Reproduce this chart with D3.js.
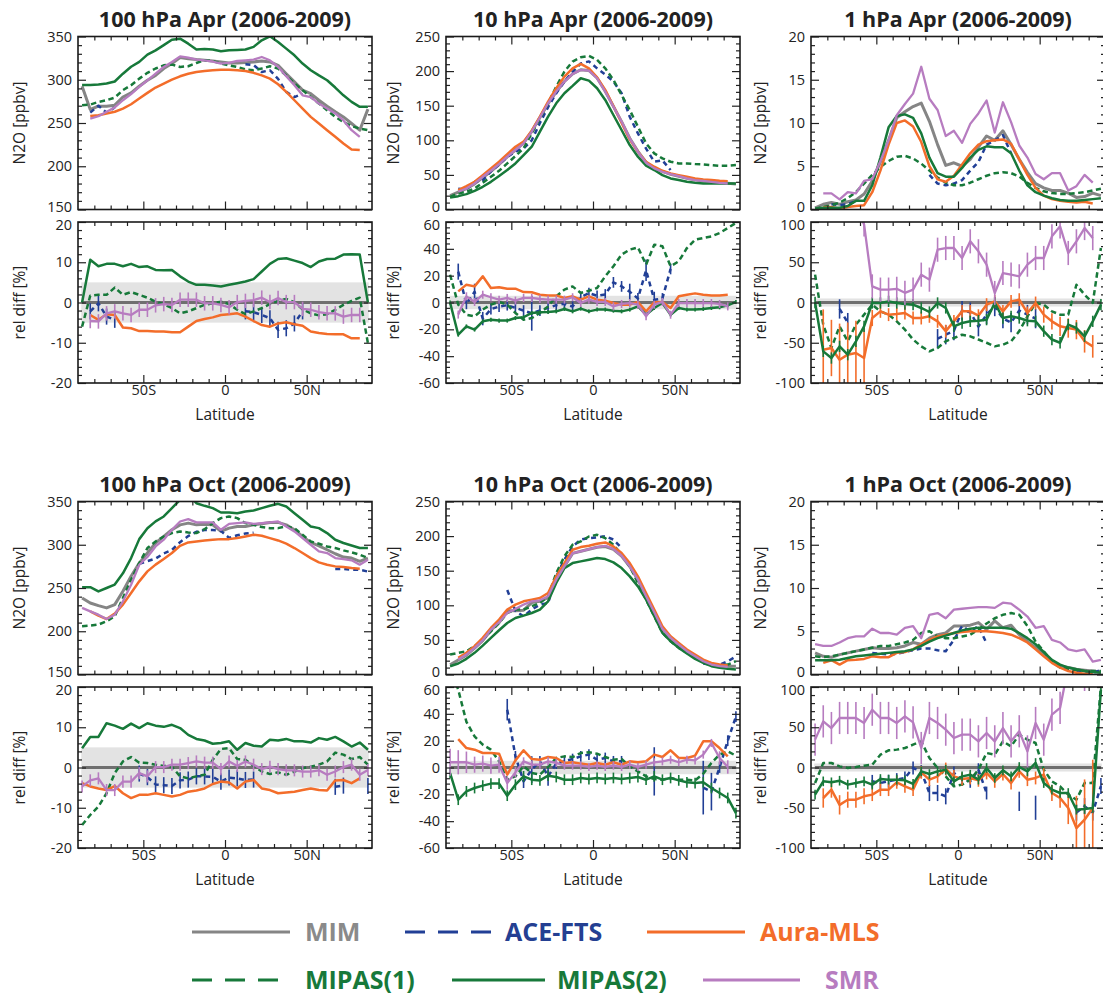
<!DOCTYPE html>
<html><head><meta charset="utf-8">
<script src="https://cdn.jsdelivr.net/npm/d3@7"></script>
<style>body{margin:0;background:#fff} svg{display:block} text{font-family:"Open Sans",sans-serif;fill:#222}</style>
</head><body><svg id="c" width="1103" height="997"></svg>
<script>
const _ = null;
const lat = [-87.5,-82.5,-77.5,-72.5,-67.5,-62.5,-57.5,-52.5,-47.5,-42.5,-37.5,-32.5,-27.5,-22.5,-17.5,-12.5,-7.5,-2.5,2.5,7.5,12.5,17.5,22.5,27.5,32.5,37.5,42.5,47.5,52.5,57.5,62.5,67.5,72.5,77.5,82.5,87.5];
const xTickVals = [-50, 0, 50];
const xTickLabels = ["50S", "0", "50N"];

// ---------- 100 hPa Apr ----------
const A100_MIM = [292.5,265.6,269.4,269.4,270.6,280,284.8,292.5,299.4,305,313,318.7,325.6,324.4,323.3,322.5,321.7,320.6,319.4,319.4,319.8,320.6,321.7,320.6,316.7,307,297.5,288,284,276.3,269.4,262.9,257,249.4,241.7,266];
const A100_ACE = [_,262,270,262,268,_,_,_,_,_,_,_,_,_,_,_,_,_,_,_,318,317,309,311,301,286,280,284,_,_,_,_,_,_,_,_];
const A100_MLS = [_,258,259,261,263,266.7,271.7,278.3,284.8,291,295.6,300.2,304,307,309,310.2,311,311.7,311.7,311,310.2,308,305,301.3,294.8,286,276.3,266.7,257.1,249.4,241.7,234,226.3,219.4,218.7,_];
const A100_MP1 = [270.6,271.3,274.4,276.3,279.4,288,293.7,301.3,308,313,316.7,317.5,314.8,315.6,319.4,322.5,321.7,318.7,316.7,314.8,312.1,311,313,315.6,313,305,295.6,288,280,272.5,264.8,257,251.3,246.3,243.7,241.7];
const A100_MP2 = [294,294,294.5,295.6,298,307,315,320.6,329,334,340,346.3,347.5,341.7,335,335.6,335,333,334,334.4,335,338,345.6,350.2,343.7,336,328.3,318.7,311,305,299.4,291,282,274.4,268.7,268.7];
const A100_SMR = [_,255,257.8,262.9,268,276.3,283.3,291.7,299.4,307,314.8,320.6,327,325.6,323.3,322.5,321,318.7,319.4,321.7,322.5,323.3,326.3,322.5,314.8,304,293.7,282,280,272.5,266.7,261,253,241.7,234,_];
const A100r_ACE = [_,-2.2,-0.2,-3.5,-4.3,_,_,_,_,_,_,_,_,_,_,_,_,_,_,_,-2.2,-2.4,-3.1,-3.9,-6.8,-6.4,-5.2,-2.2,_,_,_,_,_,_,_,_];
const A100r_MLS = [_,-3.1,-4.3,-2.9,-3.1,-6.2,-6.4,-7.1,-7.1,-7.2,-7.2,-7.4,-7.4,-6,-4.6,-4.1,-3.7,-3.1,-2.9,-2.7,-3.5,-4.6,-5.6,-6,-5.2,-4.9,-5.4,-5.8,-7.2,-7.6,-7.8,-7.9,-7.9,-8.9,-8.9,_];
const A100r_MP1 = [-6,1.7,1.9,1.9,3.7,1.9,2.6,1.9,1.2,0.2,-0.4,-1.4,-2.7,-2.2,-1.4,-0.6,-0.2,0.2,-0.4,-1.8,-2.9,-2.2,-1.4,-0.4,0.4,0.9,0.1,-1.7,-2.7,-3.2,-2.9,-1.8,-0.6,0.4,1.2,-10.1];
const A100r_MP2 = [0,10.6,9,9.6,9.6,9,9.6,8.8,9,8.1,8,8.1,6.5,5.2,4.4,4.4,4.2,4,4.4,4.8,5.2,5.8,7.7,9.6,10.8,11,10.4,9.8,8.8,10.2,10.8,10.9,11.9,12,11.9,0];
const A100r_SMR = [_,-4.6,-4.7,-2.7,-2.2,-2.7,-3.1,-1.8,-1.8,-0.7,-0.4,-0.6,0.7,0.7,0.7,-0.2,-0.2,-0.6,-1.2,0.1,0.4,0.6,1.2,0.1,1.1,0.1,0.1,-1.6,-1.8,-2.4,-2.7,-2.7,-3.5,-3.1,-3.1,_];
const A100e_SMR = 1.8, A100e_ACE = 2;

// ---------- 10 hPa Apr ----------
const A10_MIM = [20,25,30,37,46,55,65,76,86,96,113,133,153,170,185,196,202,201,190,171,149,127,103,84,68,60,55,51,48,45,43,41,40,39,38,37];
const A10_ACE = [_,30,29,40,42,55,65,76,84,88,100,125,148,168,185,199,211,214,204,195,185,168,134,110,88,69,71,57,_,_,_,_,_,_,_,_];
const A10_MLS = [_,28,33.8,40,49.7,59.4,69,80,90.7,98,113.9,134.2,155.9,175.2,192,204,210.4,204,191,172.8,149.6,125.5,101.4,83.5,69,61.8,56,52.1,49.7,47.3,44.9,43.4,42.5,41.5,41,_];
const A10_MP1 = [18.3,23.2,25.6,30.4,38.6,47.3,56,66.6,77.2,88.3,110,131.8,153.5,177.6,199.3,213.8,220,222,216.2,204,187.3,165.5,143.8,119.7,95.6,81.1,73.8,69,66.6,66.6,65.6,65.2,64.2,63.2,63.2,64.2];
const A10_MP2 = [17.4,19.3,22.2,27,32.8,40,48.3,57,66.6,78.7,90.7,112.5,134.2,153.5,168,178.6,189.7,186.3,175.2,158.3,136.6,114.9,93.1,76.3,63.2,57,49.7,44.9,42.5,40,38.6,37.6,37.6,37.6,37.6,37.6];
const A10_SMR = [_,25.6,30.4,37.6,47.3,56,65.6,76.3,86,95.6,112.5,133,153.5,170.4,184.8,196,201.7,200.8,189.7,170.4,148.6,127,102.8,83.5,67.6,59.4,54.5,51.2,48.3,44.9,42.5,41.5,40,38.6,37.6,_];
const A10r_ACE = [_,23,-1,8,-12,-5,-3,-2,-4,-6,-8,-6,-4,-2,-1,-3,4,7,5,6,15,12,8,3,24,2,3,25,_,_,_,_,_,_,_,_];
const A10r_MLS = [_,8.3,13.3,12,19.5,10.8,11.3,10.3,10.3,7.8,7.6,5.8,5.3,5.3,3.4,4.6,2.1,4.6,2.1,1.4,-0.4,-1.6,-1.6,0.4,-6.6,0.1,0.4,-4.1,4.6,5.8,6.8,5.8,5.3,5.3,5.8,_];
const A10r_MP1 = [20.7,-1.6,-9.1,-10.3,-5.3,-1.6,0.4,-1.6,-7.8,-12.8,-11.6,-7.8,-2.9,4.6,9.6,12,7.1,8.8,10.8,19.5,27,35.7,39.4,41.1,28.2,43.1,41.9,27,30.7,40.6,46.8,48.1,49.3,51.8,55.5,59.3];
const A10r_MP2 = [0,-24,-17.8,-20.2,-14,-12.8,-13.5,-13.5,-11.6,-11,-7.8,-7.3,-7.1,-6.6,-4.8,-6.6,-4.6,-6.6,-5.3,-5.3,-6.1,-6.6,-5.3,-2.9,-9.1,-4.1,-0.4,-9.1,-4.1,-5.3,-5.3,-4.8,-4.1,-3.6,-2.1,0.4];
const A10r_SMR = [_,-9,4.6,0.4,5.8,3.9,2.1,3.4,1.4,3.4,3.4,2.6,2.1,2.1,2.1,3.9,-0.4,2.1,0.4,0.4,-2.9,-1.1,-0.4,-1.6,-10.3,-1.6,0.4,-9.1,-0.4,-0.4,-0.4,-0.4,-0.4,-1.1,-2.9,_];
const A10e_SMR = 3, A10e_MP2 = 1.5;
const A10e_ACE = [_,6,4,6,5,4,4,4,4,4,13,4,4,4,4,4,4,4,4,4,4,4,6,4,8,6,4,4,_,_,_,_,_,_,_,_];

// ---------- 1 hPa Apr ----------
const A1_MIM = [0.2,0.6,0.8,0.6,0.9,1.1,1.8,3.3,5.5,8,10.6,11.3,11.9,12.3,10.2,7.5,5.1,5.4,5,5.8,7.2,8.5,8,9.1,7.5,5.8,4.3,3,2.5,2.2,2.2,1.9,1.4,1.5,1.9,1.6];
const A1_ACE = [_,_,0.6,0.5,0.6,1,_,_,_,_,_,_,_,_,4,3,2.8,3,3.4,4.5,5.5,7.5,8,8.6,6.5,_,_,_,_,_,_,_,_,_,_,_];
const A1_MLS = [_,0.25,0.3,0.1,0.3,0.4,0.5,2,4.5,7.5,10,10.3,9.6,7.8,5,3.5,3.2,3.9,5.2,6.5,7.5,7.9,8,8.1,7.6,5.8,4,2.5,1.6,1.2,1,0.9,0.8,0.9,0.7,_];
const A1_MP1 = [0.1,0.3,0.5,0.8,1.3,2,3,4,4.9,5.6,6.1,6.2,5.9,5.3,4.5,3.7,3.1,2.8,2.8,3.1,3.5,3.9,4.2,4.3,4.2,3.8,3.1,2.5,2.1,1.9,1.8,1.8,1.9,2,2.2,2.4];
const A1_MP2 = [0.1,0.2,0.2,0.2,0.4,1,1,2.8,6,9.5,10.8,11,10.6,8.8,6,4.2,3.8,3.8,4.8,6,6.9,7.3,7.2,7.2,6.5,4.5,2.8,2,1.6,1.3,1.1,1,1,1.1,1.2,1.3];
const A1_SMR = [_,1.86,1.86,1.17,2,1.86,3.3,3.5,5.6,8,10.9,12.2,13.4,16.5,12.8,11.5,8.5,9.1,7.7,9.9,11.1,12.6,8.9,12.4,10.1,7.4,6,4.1,3.5,4.2,4.2,2.2,2.7,4,3.1,_];
const A1r_ACE = [_,_,_,-8,-25,_,_,_,_,_,_,_,_,_,_,-45,-40,-35,-10,-12,-30,-15,-5,-20,-25,-10,-15,-20,_,_,_,_,_,_,_,_];
const A1r_MLS = [_,-58.6,-56.5,-71.2,-64.8,-62.7,-69,-19.3,-11,-15.1,-14.3,-13,-19.3,-19.3,-17.2,-23.4,-35.6,-23.4,-11,-11,-16.4,-2.7,1.4,-11,1.4,3.5,-13,-0.6,-15.1,-23.4,-29.6,-31.7,-33.7,-48.2,-54.5,_];
const A1r_MP1 = [34.6,-27.5,-56.5,-29.6,-48.2,-27.5,-15.1,-2.7,-11,-15.1,-23.4,-33.7,-46,-54.5,-60.7,-56.5,-48.2,-44.1,-40,-42,-46,-50,-54.5,-52.4,-48.2,-35.6,-17.2,-0.6,-2.7,-11,-15.1,-15.1,22,9.7,-0.6,67.7];
const A1r_MP2 = [0,-60.7,-69,-54.5,-64.8,-48.2,-29.6,-0.6,-0.6,1.4,-0.6,-1.9,-2.7,-6.8,-11.8,-0.6,-6.8,-29.6,-25.5,-23.4,-22.6,-21.3,-0.6,-19.3,-17.2,-19.3,-22.6,-23.4,-35.6,-46,-50,-27.5,-31.7,-42,-23.4,-2.7];
const A1r_SMR = [_,160,115,125,140,118,97,20,16,16,17,12,16,34.6,28.4,65.6,67.7,67.7,55.3,76,63.6,47,11.8,36.6,34.6,32.5,47,55.3,55.3,82.2,94.6,61.5,76,92.5,80,_];
const A1e_SMR = 15, A1e_ACE = 12, A1e_MP2 = 7;
const A1e_MLS = [_,50,35,45,40,40,40,10,8,8,8,8,8,8,8,8,8,8,8,8,8,8,8,8,8,8,8,8,10,10,12,12,12,14,14,_];

// ---------- 100 hPa Oct ----------
const O100_MIM = [238.5,232.7,229.6,227,230.8,246.2,263.5,278.8,290.4,302,309.6,317.3,323,325,323,323.8,323,315.4,319.2,321,321,323,324.2,325.8,325.8,323,317.3,309.6,302.7,298.8,294.2,289.6,285.8,284.6,280.8,284.6];
const O100_ACE = [_,_,_,_,_,_,_,278,281,284,290,294,303,310,315,317,317,316,308,311,313,314,_,_,_,_,_,_,_,_,_,272,272,271,271,269];
const O100_MLS = [_,223,218,214.2,220.4,230.8,244.2,257.7,269.2,277,283.5,290.4,298.8,302.7,303.8,305,305.8,306.5,306.5,307.7,309.6,311.5,310.4,307.7,305,301.2,296.2,290.4,284.6,279.6,276.9,275,274.2,273,272.3,_];
const O100_MP1 = [205.8,206.5,207.7,211.5,217.3,238.5,259.6,278.8,296.2,303.8,309.6,313.5,315.4,314.2,313.5,318,325,330.8,332.7,330.8,325,323,320.4,319.2,319.2,321.2,319.2,311.5,303.8,301.2,298,296.2,293.5,291.2,288.5,284.6];
const O100_MP2 = [251,251,246,250,254,267,284.6,306.5,319,327,332.7,342.3,352,358,348,345,342.3,337.3,337.3,336.5,338.5,339.6,342.3,345,347.3,344.2,336.5,328.8,321,319.2,313.5,305.8,302,299.2,296.2,296.2];
const O100_SMR = [227,223,219.2,214.2,219.2,234.6,253.8,276.9,285.8,298,305.8,317.3,326.9,329.6,325.8,325.8,325.8,317.3,324.2,325,325.8,324.2,325,325.8,326.9,321.2,315.4,307.7,300,292.3,290.4,284.6,283.5,282,277,282.7];
const O100r_ACE = [_,_,_,_,_,_,_,-1.5,-2.4,-4.2,-4.4,-4.6,-3.2,-3,-2.2,-2.2,-2.3,-3.5,-2.5,-2.7,-3.1,-3,_,_,_,_,_,_,_,_,_,-4.8,-4.5,_,_,-4.6];
const O100r_MLS = [-3.9,-4.7,-5.2,-5.6,-4.6,-6.4,-7.6,-6.8,-6.8,-6.4,-6.8,-7.2,-6.8,-6,-5.7,-5.2,-4.1,-3.5,-3.7,-5.2,-3.5,-3.1,-5.2,-5.6,-6.4,-6.2,-6,-5.6,-5.2,-5.6,-5.7,-3.2,-3.1,-3.9,-2.7,_];
const O100r_MP1 = [-14.3,-11.8,-9.7,-6.4,-1.4,1.5,2.6,1.2,1.1,0.7,0.4,0.2,-2.2,-2.7,-2.2,-1.8,1.9,4.6,4.8,2.1,1.9,0.4,-1,-1.6,-1.2,-1.8,-1,-0.2,0.2,0.7,1.5,3.7,3.2,2.1,2.6,0.7];
const O100r_MP2 = [4.8,7.6,7.6,11,10.4,9.6,10.9,9.8,11,10.4,10.1,10.6,9.8,8.1,7.1,6.7,5.9,6.1,6.5,4.4,6.1,5.4,5.2,6.9,6.7,7.1,6.5,6.5,6.2,7.3,6.9,7.6,6.5,5.2,6.2,4.4];
const O100r_SMR = [-4.7,-3.2,-2.7,-5.6,-5.6,-3.5,-3.5,-1.4,-2.2,0.1,0.1,0.7,0.7,1.1,1.5,1.2,1.2,-0.4,1.5,0.4,1.5,0.7,-0.4,0.2,-0.4,-0.7,-0.7,-1,-1,-0.7,-1.8,-1,0.1,0.7,-1.8,-0.6];
const O100e_SMR = 1.5, O100e_ACE = 2;

// ---------- 10 hPa Oct ----------
const O10_MIM = [14,21,28,38,49,64,75,92,92,93,104,106,111,136,156,175,178,181,184,185,181,171,156,137,113,90,66,53,43,34,26,19,15,13,12,12];
const O10_ACE = [_,_,_,_,_,_,_,122,92,84,94,101,103,142,166,185,195,197,198,200,195,183,_,_,_,92,_,_,_,_,_,16,14,14,19,26];
const O10_MLS = [_,24,31.3,40.9,52.9,67.3,79.3,93.8,101,105.8,108.2,110.6,117.8,141.8,161,180.3,184.1,186,189,190.9,185,175.5,161,141.8,117.8,93.8,69.7,55.3,45.7,36,28.8,21.6,16.8,14.4,13,_];
const O10_MP1 = [28.8,31.3,33.7,40.9,50.5,62.5,74.5,88.9,93.8,93.8,98.6,103.4,113,146.6,170.7,187.5,192.3,199.5,201.9,197.1,187.5,173,156.3,132.2,108.2,84.1,60.1,48.1,38.5,31.3,24,19.2,14.4,13,14.4,19.2];
const O10_MP2 = [12,15.9,22.6,31.3,41.8,52.9,63.9,74.5,81.7,85.1,88.9,93.8,105.8,132.2,153.8,161,163.5,165.9,168.3,166.8,162,153.8,141.8,127.4,108.2,84.1,60.1,48.1,38.5,30.3,22.6,16.8,12,9.6,8.2,7.2];
const O10_SMR = [_,21.6,28.8,38.5,49.5,64.9,75.5,88.9,94.7,101,105.8,107.2,113,137,156.3,175.5,177.9,181.3,184.1,186,181.3,171.6,156.3,137,113,89.9,65.9,52.9,43.3,33.7,26.4,19.2,14.4,12,11,_];
const O10r_ACE = [_,_,_,_,_,_,_,43.1,8.3,-10.3,-1.6,4.6,-6.6,2.9,4.6,6.3,8.3,9.6,5.8,7.1,4.6,4.6,_,_,_,-2.9,_,_,_,_,_,-15,-18,0,20,38];
const O10r_MLS = [_,21.2,14.5,13.3,10.8,10.8,10.3,-5.3,5.3,12.8,6.3,5.8,7.8,7.1,3.4,3.9,2.9,2.1,3.4,2.1,3.9,2.1,4.6,3.9,4.6,9.6,7.8,12.8,7.1,7.1,8.8,19.5,19.5,14.5,8.3,_];
const O10r_MP1 = [75,58,34,23.2,17,13.3,4.6,-9.1,-6.6,0.9,-4.1,-5.3,0.4,7.1,8.3,7.8,10.8,11.3,10.3,7.8,5.8,6.3,0.9,-2.9,-6.6,-8.6,-9.1,-7.8,-9.1,-9.1,-9.6,-4.6,3.4,9.6,12,8.8];
const O10r_MP2 = [-4.1,-24,-17.8,-15.3,-13.5,-12,-12,-21,-12.8,-6.6,-9.1,-9.6,-6.1,-7.1,-9.1,-9.1,-7.8,-8.6,-7.8,-8.6,-7.8,-8.6,-7.8,-7.1,-9.1,-6.6,-9.1,-7.8,-9.6,-11,-11.6,-11,-15.3,-19,-22.7,-34];
const O10r_SMR = [3.9,3.9,3.9,2.1,2.9,1.4,2.1,-11.6,-3.6,4.6,2.1,2.1,4.6,3.4,1.4,1.4,1.4,0.4,1.4,0.4,1.4,0.4,2.1,0.4,2.1,3.9,4.6,5.8,3.9,5.8,5.3,9.6,18.3,7.1,0.4,_];
const O10e_MP2 = 4;
const O10e_SMR = [10,9,8,6,6,6,6,5,4,3,3,3,3,3,3,3,3,3,3,3,3,3,3,3,3,3,3,3,3,3,3,3,3,5,5,_];
const O10e_ACE = [_,_,_,_,_,_,_,8,4,5,10,4,7,4,4,4,4,4,4,4,4,4,_,_,_,18,_,_,_,_,_,20,14,4,4,4];

// ---------- 1 hPa Oct ----------
const O1_MIM = [2.5,2.1,2,2.3,2.5,2.7,2.9,3.1,3,3,3.1,3.3,3.7,3.5,4.2,4.6,4.8,5.6,5.6,5.7,6,5.2,6.2,5.4,5.7,4.6,3.8,3.1,2.3,1.5,1,0.8,0.6,0.5,0.4,0.3];
const O1_ACE = [_,_,_,_,_,_,_,2.5,2.4,2.3,2.4,2.6,2.8,3,3,2.8,2.7,4,5.6,5,5.6,3.6,_,_,_,3.4,_,1.6,_,_,_,_,0.3,0.3,0.2,0.5];
const O1_MLS = [_,1.35,1.65,1.15,1.65,1.7,1.8,2.1,2,2,2.5,2.6,2.9,3.5,4,4.4,4.6,4.8,4.9,5,5,5,4.9,4.8,4.6,4.2,3.7,2.9,2.1,1.35,0.8,0.4,0.2,0.1,0.1,_];
const O1_MP1 = [2.1,2,2.1,2.3,2.5,2.7,2.9,3.1,3.3,3.3,3.5,3.7,4,4.8,5,4.4,4.2,4.2,4.4,4.6,5.2,5.9,6.5,6.9,7.1,6.9,5.6,3.8,2.7,1.5,0.8,0.6,0.5,0.4,0.4,0.4];
const O1_MP2 = [1.65,1.65,1.65,1.7,1.9,2.1,2.2,2.3,2.4,2.5,2.6,2.7,2.9,3.3,3.8,4.2,4.5,4.8,5.1,5.3,5.4,5.4,5.4,5.4,5.3,4.8,4.2,3.5,2.6,1.7,1.15,0.8,0.6,0.4,0.3,0.2];
const O1_SMR = [3.5,3.3,3.3,3.7,4.2,4.4,4.4,5.3,4.8,4.8,4.6,5.4,5.6,4.2,6.9,7.1,6.5,7.5,7.6,7.7,7.8,7.8,7.7,8.3,8.2,7.5,6.7,5.4,5.6,4,3.7,2.9,2.7,2.9,1.5,1.7];
const O1r_ACE = [_,_,_,_,_,_,_,-17.2,-19.3,-17,-15,-13,-0.6,-5,-31.7,-31.7,-35.8,-6.8,-15.1,-17.2,-2.7,-31.7,_,_,_,-42,_,-50,_,_,_,_,-56,-48,-56,-23];
const O1r_MLS = [_,-37.9,-27.5,-46.4,-40,-40,-35.8,-33.7,-27.5,-27.5,-18.4,-23.4,-27.5,-6,-15.1,-11,-1.9,-11,-14.3,-13,-15.9,-6.8,-17.2,-8.1,-19.3,-4.8,-15.1,-13,-8.9,-31.7,-37.9,-50.3,-75.2,-64.8,-50.3,_];
const O1r_MP1 = [-19.3,5.6,5.6,1.4,-0.6,0.6,2.3,3.5,15.9,21.3,22.2,24.2,28.4,32.5,11.8,-0.6,-11,-23.4,-21.3,-15.1,-2.7,18,15.9,32.5,26.3,40.8,34.6,30.4,-2.7,-17.2,-23.4,-33.7,-40,-19.3,-19.3,100.8];
const O1r_MP2 = [-33.7,-17.2,-18.4,-16.4,-21.3,-19.3,-17.2,-21.3,-14.3,-15.1,-15.1,-15.9,-20.3,-4.8,-8.1,-4.8,-2.7,-17.2,-11,-8.9,-15.1,-0.6,-13,-3.5,-11,0.6,-4.8,5.6,-19.3,-27.5,-31.7,-31.7,-52.4,-51.6,-50.3,96.7];
const O1r_SMR = [34.6,57.3,49,61.5,61.5,61.5,55.3,71.8,61.5,61.5,55.3,63.6,56.1,24.2,61.5,55.3,47,36.6,40.8,40.8,32.5,42.9,32.5,49,32.5,45,20,55.3,34.6,65.6,74,125,140,115,_,_];
const O1e_SMR = 20, O1e_MP2 = 6;
const O1e_MLS = [_,12,10,12,10,10,10,8,8,8,8,8,8,8,8,8,8,8,8,8,8,8,8,8,8,8,8,8,8,10,12,20,40,50,60,_];
const O1e_ACE = [_,_,_,_,_,_,_,8,8,8,8,8,8,8,10,10,10,8,8,8,8,8,_,_,_,12,_,15,_,_,_,_,10,10,10,10];

// axis settings
const titles = ["100 hPa Apr (2006-2009)","10 hPa Apr (2006-2009)","1 hPa Apr (2006-2009)","100 hPa Oct (2006-2009)","10 hPa Oct (2006-2009)","1 hPa Oct (2006-2009)"];
const topDomains = [[150,350],[0,250],[0,20]];
const topMajor = [50,50,5], topMinor = [10,10,1];
const relDomains = [[-20,20],[-60,60],[-100,100]];
const relMajor = [10,20,50], relMinor = [2,4,10];

const panels = [
  {col:0,row:0,top:{MIM:A100_MIM,ACE:A100_ACE,MP1:A100_MP1,MLS:A100_MLS,MP2:A100_MP2,SMR:A100_SMR},
   rel:{ACE:A100r_ACE,MP1:A100r_MP1,MLS:A100r_MLS,MP2:A100r_MP2,SMR:A100r_SMR},err:{SMR:A100e_SMR,ACE:A100e_ACE}},
  {col:1,row:0,top:{MIM:A10_MIM,ACE:A10_ACE,MP1:A10_MP1,MLS:A10_MLS,MP2:A10_MP2,SMR:A10_SMR},
   rel:{ACE:A10r_ACE,MP1:A10r_MP1,MLS:A10r_MLS,MP2:A10r_MP2,SMR:A10r_SMR},err:{SMR:A10e_SMR,ACE:A10e_ACE,MP2:A10e_MP2}},
  {col:2,row:0,top:{MIM:A1_MIM,ACE:A1_ACE,MP1:A1_MP1,MLS:A1_MLS,MP2:A1_MP2,SMR:A1_SMR},
   rel:{ACE:A1r_ACE,MP1:A1r_MP1,MLS:A1r_MLS,MP2:A1r_MP2,SMR:A1r_SMR},err:{SMR:A1e_SMR,ACE:A1e_ACE,MP2:A1e_MP2,MLS:A1e_MLS}},
  {col:0,row:1,top:{MIM:O100_MIM,ACE:O100_ACE,MP1:O100_MP1,MLS:O100_MLS,MP2:O100_MP2,SMR:O100_SMR},
   rel:{ACE:O100r_ACE,MP1:O100r_MP1,MLS:O100r_MLS,MP2:O100r_MP2,SMR:O100r_SMR},err:{SMR:O100e_SMR,ACE:O100e_ACE}},
  {col:1,row:1,top:{MIM:O10_MIM,ACE:O10_ACE,MP1:O10_MP1,MLS:O10_MLS,MP2:O10_MP2,SMR:O10_SMR},
   rel:{ACE:O10r_ACE,MP1:O10r_MP1,MLS:O10r_MLS,MP2:O10r_MP2,SMR:O10r_SMR},err:{SMR:O10e_SMR,ACE:O10e_ACE,MP2:O10e_MP2}},
  {col:2,row:1,top:{MIM:O1_MIM,ACE:O1_ACE,MP1:O1_MP1,MLS:O1_MLS,MP2:O1_MP2,SMR:O1_SMR},
   rel:{ACE:O1r_ACE,MP1:O1r_MP1,MLS:O1r_MLS,MP2:O1r_MP2,SMR:O1r_SMR},err:{SMR:O1e_SMR,ACE:O1e_ACE,MP2:O1e_MP2,MLS:O1e_MLS}}
];

const seriesNames = ["MIM","ACE-FTS","Aura-MLS","MIPAS(1)","MIPAS(2)","SMR"];
const colors = {MIM:"#858585",ACE:"#213f96",MLS:"#f36d2a",MP1:"#17793a",MP2:"#17793a",SMR:"#b77cc0"};
const textColors = {MIM:"#8a8a8a",ACE:"#243f92",MLS:"#f36d2a",MP1:"#17793a",MP2:"#17793a",SMR:"#b77cc0"};
const dashes = {ACE:"5,4",MP1:"5.5,3.5"};
const widths = {MIM:3,ACE:2.5,MLS:2.5,MP1:2.5,MP2:2.5,SMR:2.3};
const drawOrder = ["MIM","ACE","MP1","MLS","MP2","SMR"];

// layout
const colLeft = [78,446,811], plotW = 294;
const rowTop = [36.5,501.5], topH = 173, relOff = 185.5, relH = 161;
const yLabOff = [58,52,50];

const svg = d3.select("#c");
let clipId = 0;

function frameAxes(g, x, y, w, h, major, minor, domain, showXLabels, nudge) {
  const majors = d3.range(domain[0], domain[1] + 1e-9, major);
  const minors = d3.range(domain[0], domain[1] + 1e-9, minor).filter(v => Math.abs(v/major - Math.round(v/major)) > 1e-6);
  const xMaj = xTickVals;
  const xMin = [-80,-70,-60,-40,-30,-20,-10,10,20,30,40,60,70,80];
  const axG = g.append("g").attr("class","axes");
  const add = (axis, tr) => { const a = axG.append("g").attr("transform", tr).call(axis); a.select(".domain").remove(); a.selectAll("line").attr("stroke","#222").attr("stroke-width",1.2); return a; };
  add(d3.axisLeft(y).tickValues(minors).tickSize(-4).tickFormat(""), "translate(0,0)");
  add(d3.axisRight(y).tickValues(minors).tickSize(-4).tickFormat(""), `translate(${w},0)`);
  add(d3.axisRight(y).tickValues(majors).tickSize(-8).tickFormat(""), `translate(${w},0)`);
  const la = add(d3.axisLeft(y).tickValues(majors).tickSize(-8).tickPadding(6).tickFormat(d => String(d)), "translate(0,0)");
  la.selectAll("text").attr("font-size",14.5).attr("fill","#222").attr("font-family","'Open Sans',sans-serif");
  if (nudge === "bottom") la.selectAll("text").filter(d => d === domain[0]).attr("y", -3);
  if (nudge === "top") la.selectAll("text").filter(d => d === domain[1]).attr("y", 3);
  add(d3.axisTop(x).tickValues(xMin).tickSize(-4).tickFormat(""), "translate(0,0)");
  add(d3.axisTop(x).tickValues(xMaj).tickSize(-8).tickFormat(""), "translate(0,0)");
  add(d3.axisBottom(x).tickValues(xMin).tickSize(-4).tickFormat(""), `translate(0,${h})`);
  const ba = add(d3.axisBottom(x).tickValues(xMaj).tickSize(-8).tickPadding(2).tickFormat((d,i) => showXLabels ? xTickLabels[i] : ""), `translate(0,${h})`);
  ba.selectAll("text").attr("font-size",14.5).attr("fill","#222").attr("font-family","'Open Sans',sans-serif");
  if (!showXLabels) ba.selectAll("text").remove();
  g.append("rect").attr("width",w).attr("height",h).attr("fill","none").attr("stroke","#1a1a1a").attr("stroke-width",1.6);
}

function drawSeries(pg, x, y, data, key, errs) {
  const line = d3.line().defined(d => d != null).x((d,i) => x(lat[i])).y(d => y(d));
  const e = errs ? errs[key] : null;
  if (e != null) {
    const eg = pg.append("g");
    data.forEach((v,i) => {
      const ev = Array.isArray(e) ? e[i] : e;
      if (v == null || ev == null) return;
      eg.append("line").attr("x1",x(lat[i])).attr("x2",x(lat[i])).attr("y1",y(v-ev)).attr("y2",y(v+ev))
        .attr("stroke",colors[key]).attr("stroke-width",1.6);
    });
  }
  pg.append("path").datum(data).attr("d",line).attr("fill","none").attr("stroke",colors[key])
    .attr("stroke-width",widths[key]).attr("stroke-linejoin","round")
    .attr("stroke-dasharray",dashes[key] || null);
}

panels.forEach((p,k) => {
  const left = colLeft[p.col], top = rowTop[p.row];
  const x = d3.scaleLinear().domain([-90,90]).range([0,plotW]);
  svg.append("text").attr("x",left+plotW/2).attr("y",top-9.5).attr("text-anchor","middle")
    .attr("font-size",21.5).attr("font-weight","bold").attr("fill","#111").text(titles[k]);
  // ---- top plot
  const gT = svg.append("g").attr("transform",`translate(${left},${top})`);
  const yT = d3.scaleLinear().domain(topDomains[p.col]).range([topH,0]);
  const cid = "clip" + (clipId++);
  gT.append("clipPath").attr("id",cid).append("rect").attr("width",plotW).attr("height",topH);
  const pT = gT.append("g").attr("clip-path",`url(#${cid})`);
  drawOrder.forEach(key => drawSeries(pT, x, yT, p.top[key], key, null));
  frameAxes(gT, x, yT, plotW, topH, topMajor[p.col], topMinor[p.col], topDomains[p.col], false, "bottom");
  svg.append("text").attr("transform",`translate(${left-yLabOff[p.col]},${top+topH/2}) rotate(-90)`)
    .attr("text-anchor","middle").attr("dy","0.35em").attr("font-size",15.5).text("N2O [ppbv]");
  // ---- rel plot
  const rTop = top + relOff;
  const gR = svg.append("g").attr("transform",`translate(${left},${rTop})`);
  const yR = d3.scaleLinear().domain(relDomains[p.col]).range([relH,0]);
  const cid2 = "clip" + (clipId++);
  gR.append("clipPath").attr("id",cid2).append("rect").attr("width",plotW).attr("height",relH);
  const pR = gR.append("g").attr("clip-path",`url(#${cid2})`);
  pR.append("rect").attr("x",x(-88)).attr("width",x(88)-x(-88)).attr("y",yR(5)).attr("height",yR(-5)-yR(5)).attr("fill","#e3e3e3");
  const zeros = p.top.MIM.map(() => 0);
  pR.append("path").datum(zeros).attr("d",d3.line().x((d,i)=>x(lat[i])).y(d=>yR(d)))
    .attr("fill","none").attr("stroke","#6f6f6f").attr("stroke-width",3.2);
  ["ACE","MP1","MLS","MP2","SMR"].forEach(key => drawSeries(pR, x, yR, p.rel[key], key, p.err));
  frameAxes(gR, x, yR, plotW, relH, relMajor[p.col], relMinor[p.col], relDomains[p.col], true, "top");
  svg.append("text").attr("transform",`translate(${left-yLabOff[p.col]},${rTop+relH/2}) rotate(-90)`)
    .attr("text-anchor","middle").attr("dy","0.35em").attr("font-size",15.5).text("rel diff [%]");
  svg.append("text").attr("x",left+x(0)).attr("y",rTop+relH+36.5).attr("text-anchor","middle")
    .attr("font-size",15.5).text("Latitude");
});

// legend
const legendItems = [
  {key:"MIM",name:seriesNames[0],x1:192,x2:290,tx:305,y:932},
  {key:"ACE",name:seriesNames[1],x1:405,x2:495,tx:505,y:932},
  {key:"MLS",name:seriesNames[2],x1:647,x2:745,tx:760,y:932},
  {key:"MP1",name:seriesNames[3],x1:192,x2:290,tx:305,y:980},
  {key:"MP2",name:seriesNames[4],x1:452,x2:545,tx:557,y:980},
  {key:"SMR",name:seriesNames[5],x1:703,x2:800,tx:825,y:980}
];
const lg = svg.append("g");
legendItems.forEach(it => {
  lg.append("line").attr("x1",it.x1).attr("x2",it.x2).attr("y1",it.y).attr("y2",it.y)
    .attr("stroke",colors[it.key]).attr("stroke-width",3)
    .attr("stroke-dasharray", dashes[it.key] ? "20,13" : null);
  lg.append("text").attr("x",it.tx).attr("y",it.y).attr("dy","0.34em").attr("font-size",25)
    .attr("font-weight","bold").style("fill",textColors[it.key]).text(it.name);
});
</script></body></html>
